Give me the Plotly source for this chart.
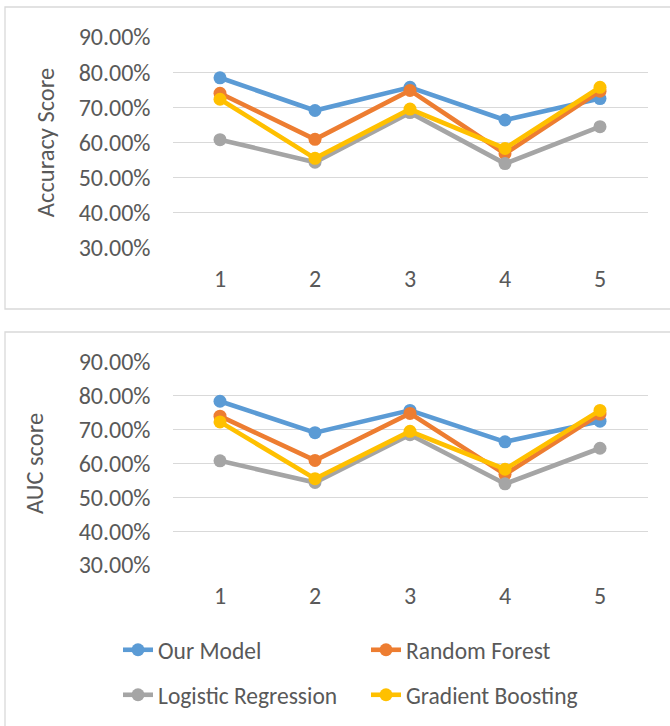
import plotly.graph_objects as go

# Fold index on the x axis
folds = [1, 2, 3, 4, 5]

# Per-fold accuracy scores
acc_our_model = [0.784, 0.691, 0.757, 0.664, 0.725]
acc_random_forest = [0.740, 0.609, 0.748, 0.568, 0.746]
acc_logistic_regression = [0.608, 0.544, 0.685, 0.540, 0.645]
acc_gradient_boosting = [0.723, 0.555, 0.695, 0.583, 0.757]

# Per-fold AUC scores
auc_our_model = [0.784, 0.691, 0.757, 0.664, 0.725]
auc_random_forest = [0.740, 0.609, 0.748, 0.568, 0.746]
auc_logistic_regression = [0.608, 0.544, 0.685, 0.540, 0.645]
auc_gradient_boosting = [0.723, 0.555, 0.695, 0.583, 0.757]

series_names = ["Our Model", "Random Forest", "Logistic Regression", "Gradient Boosting"]
series_colors = ["#5B9BD5", "#ED7D31", "#A5A5A5", "#FFC000"]

y_tick_values = [0.3, 0.4, 0.5, 0.6, 0.7, 0.8, 0.9]

W, H = 670, 726
FONT = "Calibri, Carlito, 'Open Sans', sans-serif"
TEXT_COLOR = "#595959"
GRID_COLOR = "#D9D9D9"


def py(px):
    """Convert a pixel row (from top) to paper y."""
    return 1 - px / H


def px_x(px):
    return px / W


fig = go.Figure()

acc_series = [acc_our_model, acc_random_forest, acc_logistic_regression, acc_gradient_boosting]
auc_series = [auc_our_model, auc_random_forest, auc_logistic_regression, auc_gradient_boosting]
legend_ids = ["legend", "legend", "legend2", "legend2"]

for name, color, values in zip(series_names, series_colors, acc_series):
    fig.add_trace(go.Scatter(
        x=folds, y=values, name=name, mode="lines+markers",
        line=dict(color=color, width=4.6),
        marker=dict(color=color, size=13),
        xaxis="x", yaxis="y", showlegend=False,
    ))

for name, color, values, lg in zip(series_names, series_colors, auc_series, legend_ids):
    fig.add_trace(go.Scatter(
        x=folds, y=values, name=name, mode="lines+markers",
        line=dict(color=color, width=4.6),
        marker=dict(color=color, size=13),
        xaxis="x2", yaxis="y2", showlegend=True, legend=lg,
    ))

x_domain = [px_x(172.5), px_x(647.5)]

common_x = dict(
    range=[0.5, 5.5], tickvals=folds, ticktext=[str(f) for f in folds],
    showgrid=False, zeroline=False, showline=False, ticks="",
    tickfont=dict(family=FONT, size=24, color=TEXT_COLOR),
    ticklabelstandoff=14, fixedrange=True, automargin=False,
)
common_y = dict(
    range=[0.3, 0.9], tickvals=y_tick_values, tickformat=".2%",
    showgrid=True, gridcolor=GRID_COLOR, gridwidth=1.3,
    zeroline=False, showline=False, ticks="",
    tickfont=dict(family=FONT, size=24, color=TEXT_COLOR),
    ticklabelstandoff=21, fixedrange=True, automargin=False,
)

legend_common = dict(
    orientation="h", xanchor="left", yanchor="middle",
    entrywidth=203, entrywidthmode="pixels",
    font=dict(family=FONT, size=23.5, color=TEXT_COLOR),
    bgcolor="rgba(0,0,0,0)", itemclick=False, itemdoubleclick=False,
)

fig.update_layout(
    template="none",
    width=W, height=H,
    margin=dict(l=0, r=0, t=0, b=0, pad=0),
    paper_bgcolor="white", plot_bgcolor="white",
    xaxis=dict(domain=x_domain, anchor="y", **common_x),
    yaxis=dict(domain=[py(248), py(37)], anchor="x",
               title=dict(text="Accuracy Score", standoff=17,
                          font=dict(family=FONT, size=24.5, color=TEXT_COLOR)),
               **common_y),
    xaxis2=dict(domain=x_domain, anchor="y2", **common_x),
    yaxis2=dict(domain=[py(565), py(362)], anchor="x2",
                title=dict(text="AUC score", standoff=28,
                           font=dict(family=FONT, size=24.5, color=TEXT_COLOR)),
                **common_y),
    legend=dict(x=px_x(118), y=py(650), **legend_common),
    legend2=dict(x=px_x(118), y=py(695), **legend_common),
    shapes=[
        dict(type="rect", xref="paper", yref="paper",
             x0=px_x(5), x1=1.05, y0=py(309), y1=py(7),
             line=dict(color=GRID_COLOR, width=1.3), fillcolor="rgba(0,0,0,0)", layer="below"),
        dict(type="rect", xref="paper", yref="paper",
             x0=px_x(5), x1=1.05, y0=-0.05, y1=py(332),
             line=dict(color=GRID_COLOR, width=1.3), fillcolor="rgba(0,0,0,0)", layer="below"),
    ],
)

fig.write_html("out.html")
